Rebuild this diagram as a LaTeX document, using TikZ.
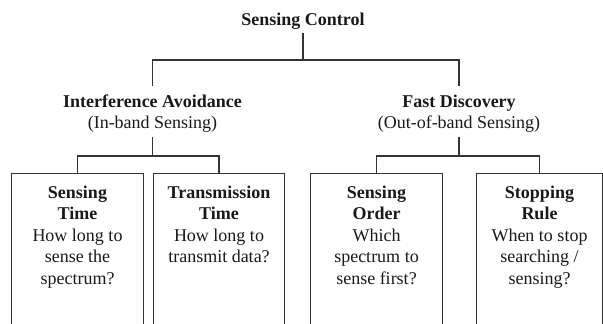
\documentclass[tikz,border=0pt]{standalone}
\usepackage{fontspec}
\setmainfont{Liberation Serif}
\begin{document}
\begin{tikzpicture}[x=1pt,y=-1pt,
  conn/.style={draw=black!80, line width=1.3pt},
  lbl/.style={font=\fontsize{18}{21.5}\selectfont, inner sep=0pt, align=center, text=black!90},
  boxshape/.style={minimum height=150pt, inner sep=0pt, draw=none}]
\useasboundingbox (0,0) rectangle (603,324);
% header nodes
\node[lbl, font=\fontsize{18}{21.5}\selectfont\bfseries, anchor=base, inner sep=4pt] (root) at (303,25) {Sensing Control};
\node[lbl, font=\fontsize{18}{21.5}\selectfont\bfseries, anchor=base, inner ysep=8.5pt] (iat) at (152.5,107) {Interference Avoidance};
\node[lbl, anchor=base, inner ysep=4.5pt] (ias) at (152.5,128.5) {(In-band Sensing)};
\node[lbl, font=\fontsize{18}{21.5}\selectfont\bfseries, anchor=base, inner ysep=8.5pt] (fdt) at (459,107) {Fast Discovery};
\node[lbl, anchor=base, inner ysep=4.5pt] (fds) at (459,128.5) {(Out-of-band Sensing)};
% junctions
\coordinate (j1) at (303,60);
\coordinate (j2) at (152.5,156);
\coordinate (j3) at (459,156);
% boxes
\node[boxshape, minimum width=131pt] (b1) at (77.5,249) {};
\node[boxshape, minimum width=130pt] (b2) at (219,249) {};
\node[boxshape, minimum width=131pt] (b3) at (376.5,249) {};
\node[boxshape, minimum width=125pt] (b4) at (539.5,249) {};
\foreach \b in {b1,b2,b3,b4}{
  \draw[conn] (\b.south west) |- (\b.north east) -- (\b.south east);
}
% box texts (base anchor = baseline of last line)
\node[lbl, anchor=base] (t1) at (b1.north |- 0,284) {\textbf{Sensing}\\\textbf{Time}\\How long to\\sense the\\spectrum?};
\node[lbl, anchor=base] (t2) at (b2.north |- 0,262.5) {\textbf{Transmission}\\\textbf{Time}\\How long to\\transmit data?};
\node[lbl, anchor=base] (t3) at (b3.north |- 0,284) {\textbf{Sensing}\\\textbf{Order}\\Which\\spectrum to\\sense first?};
\node[lbl, anchor=base] (t4) at (b4.north |- 0,284) {\textbf{Stopping}\\\textbf{Rule}\\When to stop\\searching /\\sensing?};
% connectors
\draw[conn] (root.south) -- (j1);
\draw[conn] (iat.north) |- (j1) -| (fdt.north);
\draw[conn] (ias.south) -- (j2);
\draw[conn] (fds.south) -- (j3);
\draw[conn] (b1.north) |- (j2) -| (b2.north);
\draw[conn] (b3.north) |- (j3) -| (b4.north);
\end{tikzpicture}
\end{document}
